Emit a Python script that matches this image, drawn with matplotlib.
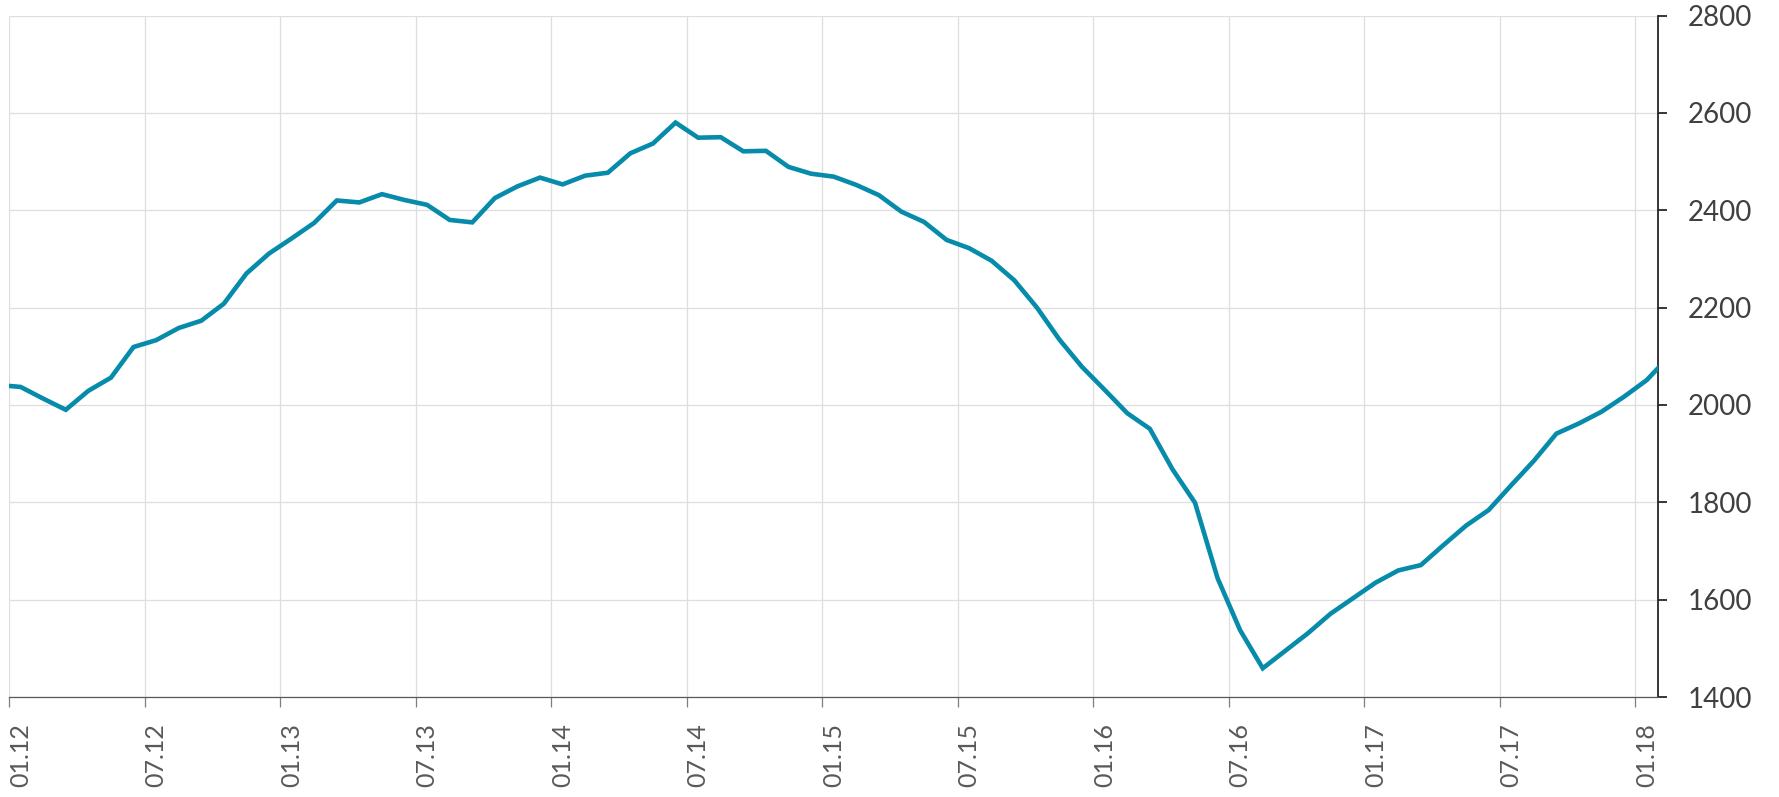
import numpy as np
import matplotlib
matplotlib.use("Agg")
import matplotlib.pyplot as plt
import matplotlib.transforms as mtransforms

# Monthly values, Dec 2011 (clipped) .. Feb 2018 (clipped)
values = [2041,
          2037, 2013, 1990, 2029, 2056, 2119, 2133, 2158, 2173, 2208, 2270, 2311,
          2342, 2374, 2420, 2416, 2433, 2421, 2411, 2380, 2375, 2425, 2449, 2467,
          2453, 2471, 2477, 2517, 2537, 2580, 2549, 2550, 2521, 2522, 2489, 2475,
          2469, 2452, 2431, 2397, 2376, 2339, 2322, 2296, 2256, 2200, 2134, 2078,
          2031, 1983, 1951, 1868, 1799, 1644, 1537, 1459, 1495, 1531, 1571, 1603,
          1635, 1660, 1671, 1712, 1752, 1784, 1835, 1885, 1941, 1962, 1986, 2017,
          2051, 2100]
tick_labels = ["01.12", "07.12", "01.13", "07.13", "01.14", "07.14", "01.15",
               "07.15", "01.16", "07.16", "01.17", "07.17", "01.18"]
y_ticks = [1400, 1600, 1800, 2000, 2200, 2400, 2600, 2800]

plt.rcParams['font.family'] = ['Lato', 'DejaVu Sans']

fig = plt.figure(figsize=(17.79, 7.97), dpi=100)
ax = fig.add_axes([9.3 / 1779, 1 - 697 / 797, (1658 - 9.3) / 1779, (697 - 15.5) / 797])

x = np.arange(len(values)) - 1 + 0.5
ax.plot(x, values, color='#078BAA', lw=3.3, solid_joinstyle='miter', zorder=3)

ax.set_xlim(0, 73)
ax.set_ylim(1400, 2800)
ax.set_xticks(np.arange(0, 73, 6))
ax.set_xticklabels(tick_labels, rotation=90, fontsize=18, color='#595959')
ax.set_yticks(y_ticks)
ax.set_yticklabels([str(v) for v in y_ticks], fontsize=20, color='#404040')

ax.yaxis.tick_right()
ax.grid(True, color='#DEDEDE', lw=0.9, zorder=0)
ax.set_axisbelow(True)

for s in ['top', 'left']:
    ax.spines[s].set_visible(False)
ax.spines['bottom'].set_color('#595959')
ax.spines['bottom'].set_linewidth(0.9)
ax.spines['right'].set_color('#262626')
ax.spines['right'].set_linewidth(1.3)

ax.tick_params(axis='x', direction='out', length=7, width=0.9, color='#7F7F7F', pad=12)
ax.tick_params(axis='y', direction='out', length=6.5, width=1.3, color='#262626', pad=15)

offset = mtransforms.ScaledTranslation(0.11, 0, fig.dpi_scale_trans)
for tick in ax.xaxis.get_major_ticks():
    tick.label1.set_transform(tick.label1.get_transform() + offset)

fig.savefig("out.png", dpi=100)
